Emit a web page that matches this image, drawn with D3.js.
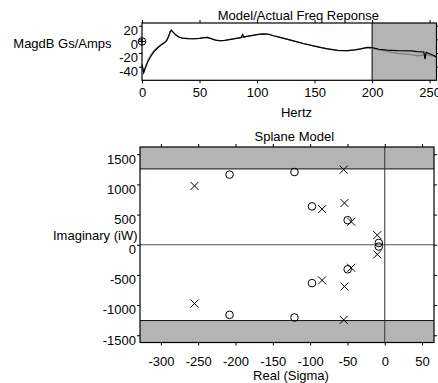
<!DOCTYPE html>
<html><head><meta charset="utf-8">
<script src="https://cdn.jsdelivr.net/npm/d3@7"></script>
<style>
body{margin:0;background:#fff}
svg{display:block;font-family:"Liberation Sans",Arial,sans-serif;font-size:13px}
</style>
</head><body>
<svg id="c" width="438" height="383"></svg>
<script>
// ---------- data: frequency response ----------
const hz =       [0, 0.8, 1.5, 2.5, 5, 8, 11, 14, 17, 19.5, 21.5, 23, 24.5, 25.5, 27, 29, 32, 35, 40, 45, 50, 54, 57, 60, 64, 68, 72, 77, 82, 86, 87.5, 88.5, 90, 95, 100, 105, 110, 115, 120, 130, 140, 150, 160, 170, 178, 185, 190, 196, 200, 206, 213, 222, 234, 239, 245, 246, 247, 250, 254, 256];
const actualDb = [-38, -44, -49, -44, -33, -24, -17, -12, -8, -5, -2, 4, 11, 13.5, 10.5, 7, 3.5, 1.9, 1, 0.9, 1.5, 2.5, 2.8, 1, -1, -2, -1.5, 0, 1.5, 2.5, 7, 3, 4, 5.5, 7, 8, 7.5, 5, 3, -1.5, -6, -10, -13.5, -16, -16.7, -15.5, -14, -11.7, -12, -14.5, -15.7, -16.5, -17, -18, -18.5, -29, -19, -21, -24, -26];
const modelDb =  [-36, -42, -46, -42, -31, -22, -15.5, -11, -7, -4.5, -1.5, 4, 11, 13.5, 10.5, 7, 3.5, 1.9, 1, 0.9, 1.5, 2.5, 2.8, 1, -1, -2, -1.5, 0, 1.5, 2.5, 3, 3.2, 4, 5.5, 7, 8, 7.5, 5, 3, -1.5, -6, -10, -13.5, -16, -16.7, -15.5, -14, -12, -13, -15.5, -17.5, -20.5, -22.5, -24, -23, -22.8, -22.5, -23.5, -25, -26];
const dcHz = 0, dcDb = -3;
const freqTicks = [0, 50, 100, 150, 200, 250];
const dbTicks = [20, 0, -20, -40];
const nyquistHz = 200;

// ---------- data: s-plane ----------
const poleRe = [-255, -255, -55, -55, -54, -54, -84, -84, -45, -45, -10, -10];
const poleIm = [975, -975, 1245, -1245, 692, -692, 590, -590, 382, -382, 160, -160];
const zeroRe = [-208, -208, -121, -121, -97.5, -97.5, -49.7, -49.7, -8, -8];
const zeroIm = [1162, -1162, 1205, -1205, 636, -636, 407, -407, 30, -30];
const sigmaTicks = [-300, -250, -200, -150, -100, -50, 0, 50];
const omegaTicks = [1500, 1000, 500, 0, -500, -1000, -1500];
const nyquistW = 1256.6;

const svg = d3.select("#c");
const GRAY = "#b4b4b4";
const fmt = d => String(d);

// ================= TOP: frequency response =================
const x1 = d3.scaleLinear().domain([0, 256]).range([142, 436.5]);
const y1 = d3.scaleLinear().domain([-60, 24]).range([80.3, 23]);
const g1 = svg.append("g");

g1.append("rect").attr("x", x1(nyquistHz)).attr("y", y1(24))
  .attr("width", x1(256) - x1(nyquistHz)).attr("height", y1(-60) - y1(24))
  .attr("fill", GRAY);
g1.append("line").attr("x1", x1(nyquistHz)).attr("x2", x1(nyquistHz))
  .attr("y1", y1(24)).attr("y2", y1(-60)).attr("stroke", "#000").attr("stroke-width", 1);

const line1 = d3.line().x((d, i) => x1(hz[i])).y(d => y1(d));
g1.append("path").attr("d", line1(modelDb)).attr("fill", "none")
  .attr("stroke", "#808080").attr("stroke-width", 1.3);
g1.append("path").attr("d", line1(actualDb)).attr("fill", "none")
  .attr("stroke", "#000").attr("stroke-width", 1.2);

// DC marker
g1.append("circle").attr("cx", x1(dcHz)).attr("cy", y1(dcDb)).attr("r", 3.8)
  .attr("fill", "none").attr("stroke", "#000").attr("stroke-width", 1);
g1.append("path").attr("d", `M${x1(dcHz)-3.8},${y1(dcDb)}H${x1(dcHz)+3.8}M${x1(dcHz)},${y1(dcDb)-3.8}V${y1(dcDb)+3.8}`)
  .attr("stroke", "#000").attr("stroke-width", 1);

// axes
const ax1b = g1.append("g").attr("transform", `translate(0,${y1(-60)})`)
  .call(d3.axisBottom(x1).tickValues(freqTicks).tickFormat(fmt).tickSize(3).tickSizeOuter(0));
ax1b.selectAll("text").attr("y", 17.2).attr("dy", 0);
const ax1t = g1.append("g").attr("transform", `translate(0,${y1(24)})`)
  .call(d3.axisTop(x1).tickValues(freqTicks).tickSize(3).tickFormat("").tickSizeOuter(0));
const ax1l = g1.append("g").attr("transform", `translate(${x1(0)},0)`)
  .call(d3.axisLeft(y1).tickValues(dbTicks).tickFormat(fmt).tickSize(3).tickPadding(1).tickSizeOuter(0));
ax1l.selectAll("text").attr("dy", "0.68em");
const ax1r = g1.append("g").attr("transform", `translate(${x1(256)},0)`)
  .call(d3.axisRight(y1).tickValues(dbTicks).tickSize(3).tickFormat("").tickSizeOuter(0));
[ax1b, ax1t, ax1l, ax1r].forEach(a => { a.select(".domain").remove(); a.selectAll("text").attr("font-size", 13).attr("font-family", null).attr("fill", "#000"); });

g1.append("rect").attr("x", x1(0)).attr("y", y1(24))
  .attr("width", x1(256) - x1(0)).attr("height", y1(-60) - y1(24))
  .attr("fill", "none").attr("stroke", "#000").attr("stroke-width", 1.2);

g1.append("text").attr("x", 298.3).attr("y", 19.5).attr("text-anchor", "middle").text("Model/Actual Freq Reponse");
g1.append("text").attr("x", 296.5).attr("y", 117).attr("text-anchor", "middle").text("Hertz");
g1.append("text").attr("x", 13.3).attr("y", 47.5).text("MagdB Gs/Amps");

// ================= BOTTOM: s-plane =================
const x2 = d3.scaleLinear().domain([-328, 66]).range([140, 434]);
const y2 = d3.scaleLinear().domain([-1620, 1620]).range([342.5, 147]);
const g2 = svg.append("g");

g2.append("rect").attr("x", x2(-328)).attr("y", y2(1620))
  .attr("width", x2(66) - x2(-328)).attr("height", y2(nyquistW) - y2(1620)).attr("fill", GRAY);
g2.append("rect").attr("x", x2(-328)).attr("y", y2(-nyquistW))
  .attr("width", x2(66) - x2(-328)).attr("height", y2(-1620) - y2(-nyquistW)).attr("fill", GRAY);
[nyquistW, -nyquistW].forEach(w => g2.append("line")
  .attr("x1", x2(-328)).attr("x2", x2(66)).attr("y1", y2(w)).attr("y2", y2(w))
  .attr("stroke", "#111").attr("stroke-width", 1));
g2.append("line").attr("x1", x2(-328)).attr("x2", x2(66)).attr("y1", y2(0)).attr("y2", y2(0))
  .attr("stroke", "#555").attr("stroke-width", 1);
g2.append("line").attr("x1", x2(0)).attr("x2", x2(0)).attr("y1", y2(1620)).attr("y2", y2(-1620))
  .attr("stroke", "#333").attr("stroke-width", 1);

// poles (x)
const s = 4;
g2.selectAll("path.pole").data(poleRe).enter().append("path").attr("class", "pole")
  .attr("d", (d, i) => { const cx = x2(d), cy = y2(poleIm[i]);
    return `M${cx-s},${cy-s}L${cx+s},${cy+s}M${cx-s},${cy+s}L${cx+s},${cy-s}`; })
  .attr("stroke", "#000").attr("stroke-width", 1).attr("fill", "none");
// zeros (o)
g2.selectAll("circle.zero").data(zeroRe).enter().append("circle").attr("class", "zero")
  .attr("cx", d => x2(d)).attr("cy", (d, i) => y2(zeroIm[i])).attr("r", 3.8)
  .attr("fill", "none").attr("stroke", "#000").attr("stroke-width", 1);

const ax2b = g2.append("g").attr("transform", `translate(0,${y2(-1620)})`)
  .call(d3.axisBottom(x2).tickValues(sigmaTicks).tickFormat(fmt).tickSize(3).tickSizeOuter(0));
ax2b.selectAll("text").attr("y", 23.5).attr("dy", 0);
const ax2t = g2.append("g").attr("transform", `translate(0,${y2(1620)})`)
  .call(d3.axisTop(x2).tickValues(sigmaTicks).tickSize(3).tickFormat("").tickSizeOuter(0));
const ax2l = g2.append("g").attr("transform", `translate(${x2(-328)},0)`)
  .call(d3.axisLeft(y2).tickValues(omegaTicks).tickFormat(fmt).tickSize(3).tickPadding(1).tickSizeOuter(0));
ax2l.selectAll("text").attr("dy", "0.68em");
const ax2r = g2.append("g").attr("transform", `translate(${x2(66)},0)`)
  .call(d3.axisRight(y2).tickValues(omegaTicks).tickSize(3).tickFormat("").tickSizeOuter(0));
[ax2b, ax2t, ax2l, ax2r].forEach(a => { a.select(".domain").remove(); a.selectAll("text").attr("font-size", 13).attr("font-family", null).attr("fill", "#000"); });

g2.append("rect").attr("x", x2(-328)).attr("y", y2(1620))
  .attr("width", x2(66) - x2(-328)).attr("height", y2(-1620) - y2(1620))
  .attr("fill", "none").attr("stroke", "#000").attr("stroke-width", 1.2);

g2.append("text").attr("x", 294.3).attr("y", 141).attr("text-anchor", "middle").text("Splane Model");
g2.append("text").attr("x", 291).attr("y", 380).attr("text-anchor", "middle").text("Real (Sigma)");
g2.append("text").attr("x", 137.5).attr("y", 239.5).attr("text-anchor", "end").text("Imaginary (iW)");
</script>
</body></html>
